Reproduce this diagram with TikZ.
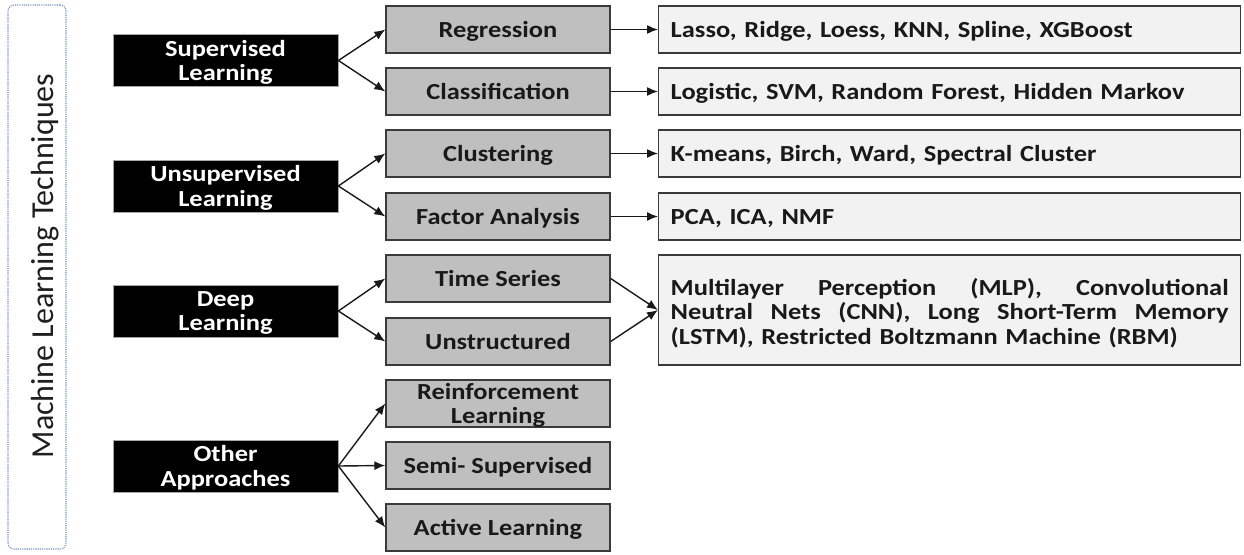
\documentclass[tikz,border=0pt]{standalone}
\usepackage{fontspec}
\setmainfont{Carlito}[FakeStretch=1.15]
\newfontfamily\titlefont{Carlito}
\usetikzlibrary{arrows.meta}
\definecolor{catfill}{HTML}{BFBFBF}
\definecolor{methfill}{HTML}{F2F2F2}
\definecolor{edgegray}{HTML}{3A3A3A}
\definecolor{frameblue}{HTML}{6A8CBA}
\begin{document}
\begin{tikzpicture}[x=1pt,y=-1pt,
  boxfont/.style={font=\fontsize{23}{24.5}\selectfont\bfseries, text depth=0pt},
  rootbox/.style={boxfont, fill=black, draw=gray!70, line width=0.8pt, text=white,
    minimum width=225pt, minimum height=52pt, align=center, inner sep=0pt},
  catbox/.style={boxfont, fill=catfill, draw=edgegray, line width=1.4pt, text=black!90,
    minimum width=224pt, minimum height=47pt, align=center, inner sep=0pt},
  methbox/.style={boxfont, fill=methfill, draw=edgegray, line width=1.4pt, text=black!90,
    text width=558pt, inner xsep=12pt, inner ysep=0pt, minimum height=47pt,
    align=left, anchor=west},
  arr/.style={-{Latex[length=11pt,width=9pt]}, line width=1.4pt, black!90}
]
\useasboundingbox (0,0) rectangle (1244,554);

% frame with the vertical title
\node[draw=frameblue, line width=1.1pt, dash pattern=on 1.1pt off 1.1pt,
  rounded corners=6pt, minimum width=58pt, minimum height=544pt, inner sep=0pt]
  (frame) at (37,277) {};
\node[rotate=90, anchor=base, font=\titlefont\fontsize{32}{34}\selectfont, text=black!88]
  (title) at (53,266) {Machine Learning Techniques};

% learning families
\node[rootbox] (sup) at (225.5,60.5) {Supervised\\Learning};
\node[rootbox] (uns) at (225.5,186) {Unsupervised\\Learning};
\node[rootbox] (deep) at (225.5,311) {Deep\\Learning};
\node[rootbox] (oth) at (225.5,466) {Other\\Approaches};

% task categories
\node[catbox] (reg) at (498,29.5) {Regression};
\node[catbox] (cla) at (498,91.5) {Classification};
\node[catbox] (clu) at (498,153.5) {Clustering};
\node[catbox] (fac) at (498,216.5) {Factor Analysis};
\node[catbox] (ts) at (498,278.5) {Time Series};
\node[catbox] (uns2) at (498,341.5) {Unstructured};
\node[catbox] (rl) at (498,403.5) {Reinforcement\\Learning};
\node[catbox] (semi) at (498,465.5) {Semi- Supervised};
\node[catbox] (act) at (498,527.5) {Active Learning};

% methods
\node[methbox] (mreg) at (658,29.5) {Lasso, Ridge, Loess, KNN, Spline, XGBoost};
\node[methbox] (mcla) at (658,91.5) {Logistic, SVM, Random Forest, Hidden Markov};
\node[methbox] (mclu) at (658,153.5) {K-means, Birch, Ward, Spectral Cluster};
\node[methbox] (mfac) at (658,216.5) {PCA, ICA, NMF};
% deep-learning methods: box first, justified text set slightly below its centre
\node[methbox, minimum height=110pt] (mdl) at (658,310) {};
\node[methbox, text depth=, draw=none, fill=none, yshift=-3pt] (mdltext) at (mdl.west)
  {Multilayer\hfill Perception\hfill (MLP),\hfill Convolutional\\
   Neutral\hfill Nets\hfill (CNN),\hfill Long\hfill Short-Term\hfill Memory\\
   (LSTM), Restricted Boltzmann Machine (RBM)};

% connectors
\draw[arr] (sup.east) -- (reg.west);
\draw[arr] (sup.east) -- (cla.west);
\draw[arr] (uns.east) -- (clu.west);
\draw[arr] (uns.east) -- (fac.west);
\draw[arr] (deep.east) -- (ts.west);
\draw[arr] (deep.east) -- (uns2.west);
\draw[arr] (oth.east) -- (rl.west);
\draw[arr] (oth.east) -- (semi.west);
\draw[arr] (oth.east) -- (act.west);

\draw[arr] (reg.east) -- (mreg.west);
\draw[arr] (cla.east) -- (mcla.west);
\draw[arr] (clu.east) -- (mclu.west);
\draw[arr] (fac.east) -- (mfac.west);
\draw[arr] (ts.east) -- (mdl.west);
\draw[arr] (uns2.east) -- (mdl.west);
\end{tikzpicture}
\end{document}
